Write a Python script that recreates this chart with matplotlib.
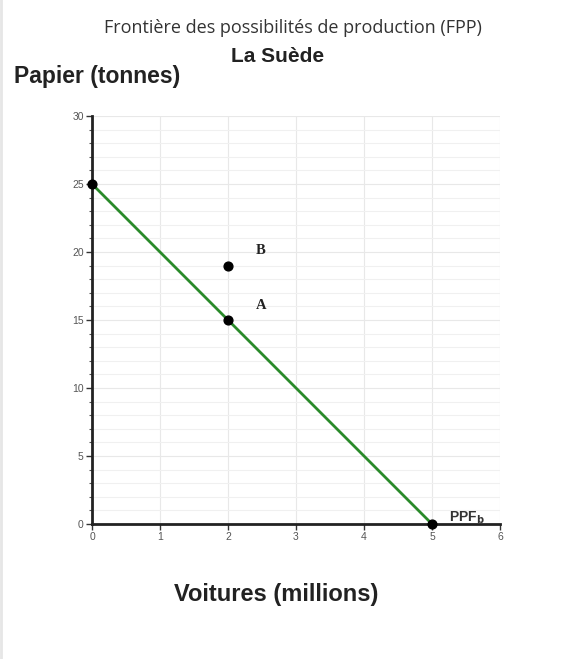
import matplotlib
matplotlib.use("Agg")
import matplotlib.pyplot as plt
from matplotlib.ticker import MultipleLocator

# Data
ppf_x = [0, 5]
ppf_y = [25, 0]
point_x = [0, 2, 2, 5]
point_y = [25, 15, 19, 0]
labels = ["A", "B"]
label_x = [2, 2]
label_y = [15, 19]
x_ticks = [0, 1, 2, 3, 4, 5, 6]
y_ticks = [0, 5, 10, 15, 20, 25, 30]

plt.rcParams['font.family'] = ['Liberation Sans', 'DejaVu Sans']

W, H = 586, 659
fig = plt.figure(figsize=(W / 100, H / 100), dpi=100)
fig.patch.set_facecolor('white')

ax = fig.add_axes([92 / W, 1 - 524 / H, (500 - 92) / W, (524 - 116) / H])
ax.set_xlim(0, 6)
ax.set_ylim(0, 30)
ax.set_xticks(x_ticks)
ax.set_yticks(y_ticks)
ax.yaxis.set_minor_locator(MultipleLocator(1))
ax.grid(True, which='major', color='#e8e8e8', linewidth=0.8)
ax.grid(True, which='minor', axis='y', color='#f0f0f0', linewidth=0.8)
ax.set_axisbelow(True)

for s in ['top', 'right']:
    ax.spines[s].set_visible(False)
for s in ['left', 'bottom']:
    ax.spines[s].set_linewidth(2)
    ax.spines[s].set_color('#222222')

ax.tick_params(axis='both', which='major', direction='out', length=4, width=1,
               colors='#333333', labelsize=7.5, labelcolor='#555555', pad=2)
ax.tick_params(axis='y', which='minor', direction='out', length=2.5, width=0.8, colors='#555555')

ax.plot(ppf_x, ppf_y, color='#2a8a2a', linewidth=2, clip_on=False, zorder=3)
ax.scatter(point_x, point_y, s=40, color='black', zorder=4, clip_on=False)

for lab, lx, ly in zip(labels, label_x, label_y):
    ax.annotate(lab, (lx, ly), xytext=(20, 8), textcoords='offset points',
                fontsize=10.5, fontweight='bold', family=['Liberation Serif'],
                color='#222222')

ax.annotate('PPF$_\\mathbf{b}$', (5, 0), xytext=(12, 2), textcoords='offset points',
            fontsize=10, fontweight='bold', color='#333333')

fig.text(293 / W, 1 - 28 / H, 'Frontière des possibilités de production (FPP)',
         ha='center', va='center', fontsize=13, color='#333333', family=['Open Sans'])
fig.text(278 / W, 1 - 57 / H, 'La Suède', ha='center', va='center',
         fontsize=15, fontweight='bold', color='#222222')
fig.text(14 / W, 1 - 77 / H, 'Papier (tonnes)', ha='left', va='center',
         fontsize=16.5, fontweight='bold', color='#222222')
fig.text(276 / W, 1 - 594 / H, 'Voitures (millions)', ha='center', va='center',
         fontsize=17, fontweight='bold', color='#222222')

# light left page edge as in the reference
fig.add_artist(plt.Line2D([0.002, 0.002], [0, 1], transform=fig.transFigure,
                          color='#e6e6e6', linewidth=2))

fig.savefig('out.png', dpi=100, facecolor='white')
